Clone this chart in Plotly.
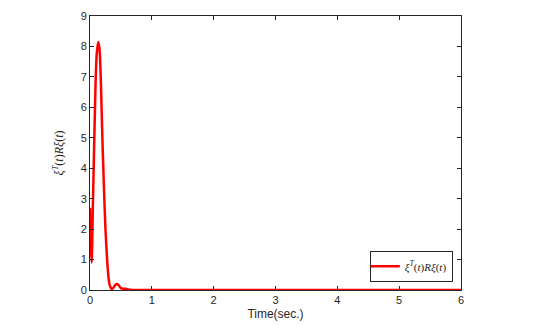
import plotly.graph_objects as go

# values
time_s = [0, 0.01, 0.027, 0.045, 0.07, 0.09, 0.11, 0.135, 0.155, 0.175, 0.2, 0.225, 0.25,
          0.28, 0.3, 0.32, 0.35, 0.38, 0.41, 0.44, 0.47, 0.5, 0.54, 0.58, 0.62, 0.66,
          0.7, 1, 2, 3, 4, 5, 6]
xi_r_xi = [2.7, 1.6, 0.9, 2.6, 5.0, 6.8, 7.8, 8.15, 7.9, 6.9, 5.0, 3.4, 2.0,
           0.9, 0.4, 0.15, 0.03, 0.08, 0.17, 0.2, 0.14, 0.06, 0.04, 0.04, 0.02, 0.01,
           0, 0, 0, 0, 0, 0, 0]

x_ticks = [0, 1, 2, 3, 4, 5, 6]
y_ticks = [0, 1, 2, 3, 4, 5, 6, 7, 8, 9]

label = "<i>ξ</i><sup><i>T</i></sup>(<i>t</i>)<i>Rξ</i>(<i>t</i>)"

fig = go.Figure()
fig.add_trace(go.Scatter(x=time_s, y=xi_r_xi, mode="lines", name=label,
                         line=dict(color="#ff0000", width=2.5, shape="spline", smoothing=0.6)))

axis_style = dict(showline=True, linecolor="#262626", linewidth=1, mirror="ticks",
                  ticks="inside", ticklen=4, tickcolor="#262626", showgrid=False,
                  zeroline=False, automargin=False,
                  tickfont=dict(family="Liberation Sans", size=11, color="#262626"))

fig.update_xaxes(range=[0, 6], tickvals=x_ticks, **axis_style,
                 title=dict(text="Time(sec.)", font=dict(family="Liberation Sans", size=12, color="#262626"),
                            standoff=4))
fig.update_yaxes(range=[0, 9], tickvals=y_ticks, **axis_style,
                 title=dict(text=label, font=dict(family="Liberation Serif", size=12, color="#262626"),
                            standoff=14))

fig.update_layout(
    width=536, height=325,
    margin=dict(l=90, r=75, t=16, b=35),
    plot_bgcolor="white", paper_bgcolor="white",
    showlegend=True,
    legend=dict(x=0.978, y=0.03, xanchor="right", yanchor="bottom",
                bgcolor="white", bordercolor="#262626", borderwidth=1,
                font=dict(family="Liberation Serif", size=11, color="#262626"),
                itemwidth=30, tracegroupgap=0, indentation=-6),
)

# drop the browser's default body margin so the figure sits at the window corner
fig.write_html("out.html", config={"displayModeBar": False},
               post_script="document.body.style.margin='0';")
